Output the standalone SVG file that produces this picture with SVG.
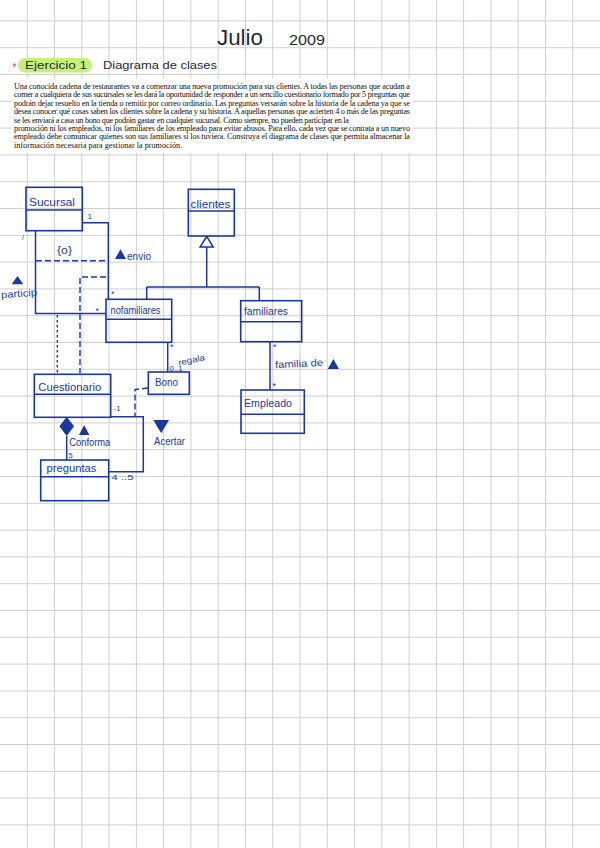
<svg xmlns="http://www.w3.org/2000/svg" width="600" height="848" viewBox="0 0 600 848">
<style>
.grid{stroke:#cfcfcf;stroke-width:1;fill:none}
.box{fill:none;stroke:#1b38a0;stroke-width:1.6}
.ln{fill:none;stroke:#1b38a0;stroke-width:1.5}
.dash{fill:none;stroke:#1b38a0;stroke-width:1.4;stroke-dasharray:6,3}
.dot{fill:none;stroke:#1b38a0;stroke-width:1.4;stroke-dasharray:2.5,2.5}
.fillb{fill:#1b38a0;stroke:none}
.lbl{font-family:"Liberation Sans",Arial,sans-serif;fill:#1b38a0}
.name{font-family:"Liberation Sans",Arial,sans-serif;font-size:11px;fill:#1b38a0}
.par{font-family:"Liberation Serif","Times New Roman",serif;font-size:8.2px;fill:#111}
.hand{font-family:"Liberation Sans",Arial,sans-serif;fill:#1d2a35}
</style>
<rect width="600" height="848" fill="#ffffff"/>
<g id="grid">
<path class="grid" d="M27.3,0V848M54.5,0V848M81.8,0V848M109.1,0V848M136.4,0V848M163.6,0V848M190.9,0V848M218.2,0V848M245.5,0V848M272.7,0V848M300,0V848M327.3,0V848M354.5,0V848M381.8,0V848M409.1,0V848M436.4,0V848M463.6,0V848M490.9,0V848M518.2,0V848M545.5,0V848M572.7,0V848"/>
<path class="grid" d="M0,20.9H600M0,47.7H600M0,74.5H600M0,101.3H600M0,128.1H600M0,154.9H600M0,181.7H600M0,208.5H600M0,235.3H600M0,262.1H600M0,288.9H600M0,315.7H600M0,342.5H600M0,369.3H600M0,396.1H600M0,422.9H600M0,449.7H600M0,476.5H600M0,503.3H600M0,530.1H600M0,556.9H600M0,583.7H600M0,610.5H600M0,637.3H600M0,664.1H600M0,690.9H600M0,717.7H600M0,744.5H600M0,771.3H600M0,798.1H600M0,824.9H600"/>
</g>
<g id="header">
<text class="hand" x="217" y="45" font-size="22" textLength="46" lengthAdjust="spacingAndGlyphs">Julio</text>
<text class="hand" x="289" y="45" font-size="14" textLength="36" lengthAdjust="spacingAndGlyphs">2009</text>
<rect x="18" y="58" width="74" height="14.5" rx="7.2" fill="#c6ef7a"/>
<text x="12.5" y="71" font-family="Liberation Sans,Arial,sans-serif" font-size="10" fill="#e83a3a">*</text>
<text class="hand" x="25" y="69" font-size="11" textLength="62" lengthAdjust="spacingAndGlyphs">Ejercicio 1</text>
<text class="hand" x="103" y="69" font-size="11" textLength="114" lengthAdjust="spacingAndGlyphs">Diagrama  de  clases</text>
</g>
<g id="enunciado">
<rect x="12" y="78" width="401" height="75" fill="#ffffff"/>
<text class="par" x="14" y="89" textLength="396" lengthAdjust="spacing">Una conocida cadena de restaurantes va a comenzar una nueva promoción para sus clientes. A todas las personas que acudan a</text>
<text class="par" x="14" y="97.4" textLength="396" lengthAdjust="spacing">comer a cualquiera de sus sucursales se les dará la oportunidad de responder a un sencillo cuestionario formado por 5 preguntas que</text>
<text class="par" x="14" y="105.8" textLength="396" lengthAdjust="spacing">podrán dejar resuelto en la tienda o remitir por correo ordinario. Las preguntas versarán sobre la historia de la cadena ya que se</text>
<text class="par" x="14" y="114.2" textLength="396" lengthAdjust="spacing">desea conocer qué cosas saben los clientes sobre la cadena y su historia. A aquellas personas que acierten 4 o más de las preguntas</text>
<text class="par" x="14" y="122.6" textLength="335" lengthAdjust="spacing">se les enviará a casa un bono que podrán gastar en cualquier sucursal. Como siempre, no pueden participar en la</text>
<text class="par" x="14" y="131" textLength="396" lengthAdjust="spacing">promoción ni los empleados, ni los familiares de los empleado para evitar abusos. Para ello, cada vez que se contrata a un nuevo</text>
<text class="par" x="14" y="139.4" textLength="396" lengthAdjust="spacing">empleado debe comunicar quienes son sus familiares si los tuviera. Construya el diagrama de clases que permita almacenar la</text>
<text class="par" x="14" y="147.8">información necesaria para gestionar la promoción.</text>
</g>
<g id="connectors">
<path class="ln" d="M82.3,222.7H108.3V299.3"/>
<path class="ln" d="M35.5,230.7V313.5H106"/>
<path class="dash" d="M36,260.7H108"/>
<path class="dash" d="M106,277H80V373"/>
<path class="dot" d="M57.3,315V373"/>
<path class="ln" d="M206.7,247V287M146.7,287H259.3M146.7,287V299.3M259.3,287V300.7"/>
<path d="M206.7,236.5L213.3,247H200.1Z" fill="#ffffff" stroke="#1b38a0" stroke-width="1.5"/>
<path class="ln" d="M167.7,342.3V372"/>
<path class="ln" d="M270,341.7V390"/>
<path class="ln" d="M66.7,436V460"/>
<path class="fillb" d="M66.7,416.7L74,426.3L66.7,436L59.4,426.3Z"/>
<path class="ln" d="M110.7,416.7H143.3V471.7H108.7"/>
<path class="dash" d="M148,388L135,389.5V417"/>
</g>
<g id="labels">
<text class="lbl" x="87.5" y="218.5" font-size="8">1</text>
<text class="lbl" x="22" y="240" font-size="7">/</text>
<text class="lbl" x="57" y="254" font-size="11" textLength="15" lengthAdjust="spacingAndGlyphs">{o}</text>
<path class="fillb" d="M120.5,249.3L126,259H115Z"/>
<text class="lbl" x="127" y="259.5" font-size="10" textLength="24" lengthAdjust="spacingAndGlyphs">envio</text>
<path class="fillb" d="M17.5,276L23.3,284.3H11.7Z"/>
<text class="lbl" x="1" y="297" font-size="10" textLength="36" lengthAdjust="spacingAndGlyphs" transform="rotate(-4 18 294)">particip</text>
<text class="lbl" x="111" y="297" font-size="9">*</text>
<text class="lbl" x="95.5" y="314" font-size="9">*</text>
<text class="lbl" x="170" y="350" font-size="9">*</text>
<text class="lbl" x="169.5" y="371" font-size="7.5" textLength="13" lengthAdjust="spacingAndGlyphs">0..1</text>
<text class="lbl" x="178" y="363" font-size="8.5" textLength="27" lengthAdjust="spacingAndGlyphs" transform="rotate(-12 191 360)">regala</text>
<text class="lbl" x="273" y="350" font-size="9">*</text>
<text class="lbl" x="275" y="367" font-size="10" textLength="48" lengthAdjust="spacingAndGlyphs" transform="rotate(-3 299 364)">familia de</text>
<path class="fillb" d="M333.4,359L339,369H327.7Z"/>
<text class="lbl" x="272.5" y="389" font-size="9">*</text>
<text class="lbl" x="113.5" y="411" font-size="8">-1</text>
<path class="fillb" d="M84.2,425L89.3,435H79Z"/>
<text class="lbl" x="69.3" y="446" font-size="10" textLength="41" lengthAdjust="spacingAndGlyphs">Conforma</text>
<text class="lbl" x="68.5" y="458" font-size="7.5">5</text>
<path class="fillb" d="M153.3,420H169L161.2,433.3Z"/>
<text class="lbl" x="154" y="444.5" font-size="10" textLength="31" lengthAdjust="spacingAndGlyphs">Acertar</text>
<text class="lbl" x="111.5" y="479.5" font-size="8" textLength="22" lengthAdjust="spacingAndGlyphs">4 ..5</text>
</g>
<g id="Sucursal">
<rect class="box" x="26" y="187.3" width="56.3" height="43.4"/>
<path class="ln" d="M26,210H82.3"/>
<text class="name" x="29" y="206" textLength="46" lengthAdjust="spacingAndGlyphs">Sucursal</text>
</g>
<g id="Clientes">
<rect class="box" x="188.3" y="189.3" width="46" height="46.7"/>
<path class="ln" d="M188.3,211H234.3"/>
<text class="name" x="190.5" y="207.5" textLength="40" lengthAdjust="spacingAndGlyphs">clientes</text>
</g>
<g id="NoFamiliares">
<rect class="box" x="106" y="299.3" width="65.7" height="43"/>
<path class="ln" d="M106,319.3H171.7"/>
<text class="name" x="110.5" y="314" textLength="50" lengthAdjust="spacingAndGlyphs">nofamiliares</text>
</g>
<g id="Familiares">
<rect class="box" x="240.7" y="300.7" width="61" height="41"/>
<path class="ln" d="M240.7,321.7H301.7"/>
<text class="name" x="244" y="314.5" textLength="44" lengthAdjust="spacingAndGlyphs">familiares</text>
</g>
<g id="Bono">
<rect class="box" x="148.3" y="372" width="41" height="22.3"/>
<text class="name" x="155" y="386" textLength="23" lengthAdjust="spacingAndGlyphs">Bono</text>
</g>
<g id="Cuestionario">
<rect class="box" x="34.3" y="374.3" width="76.4" height="43"/>
<path class="ln" d="M34.3,394.3H110.7"/>
<text class="name" x="38.3" y="391" textLength="63" lengthAdjust="spacingAndGlyphs">Cuestionario</text>
</g>
<g id="Empleado">
<rect class="box" x="241" y="390" width="63.3" height="43.3"/>
<path class="ln" d="M241,414.3H304.3"/>
<text class="name" x="244" y="407" textLength="48" lengthAdjust="spacingAndGlyphs">Empleado</text>
</g>
<g id="Preguntas">
<rect class="box" x="40.7" y="460" width="68" height="40.7"/>
<path class="ln" d="M40.7,476.7H108.7"/>
<text class="name" x="46.5" y="472" textLength="50" lengthAdjust="spacingAndGlyphs">preguntas</text>
</g>
</svg>
